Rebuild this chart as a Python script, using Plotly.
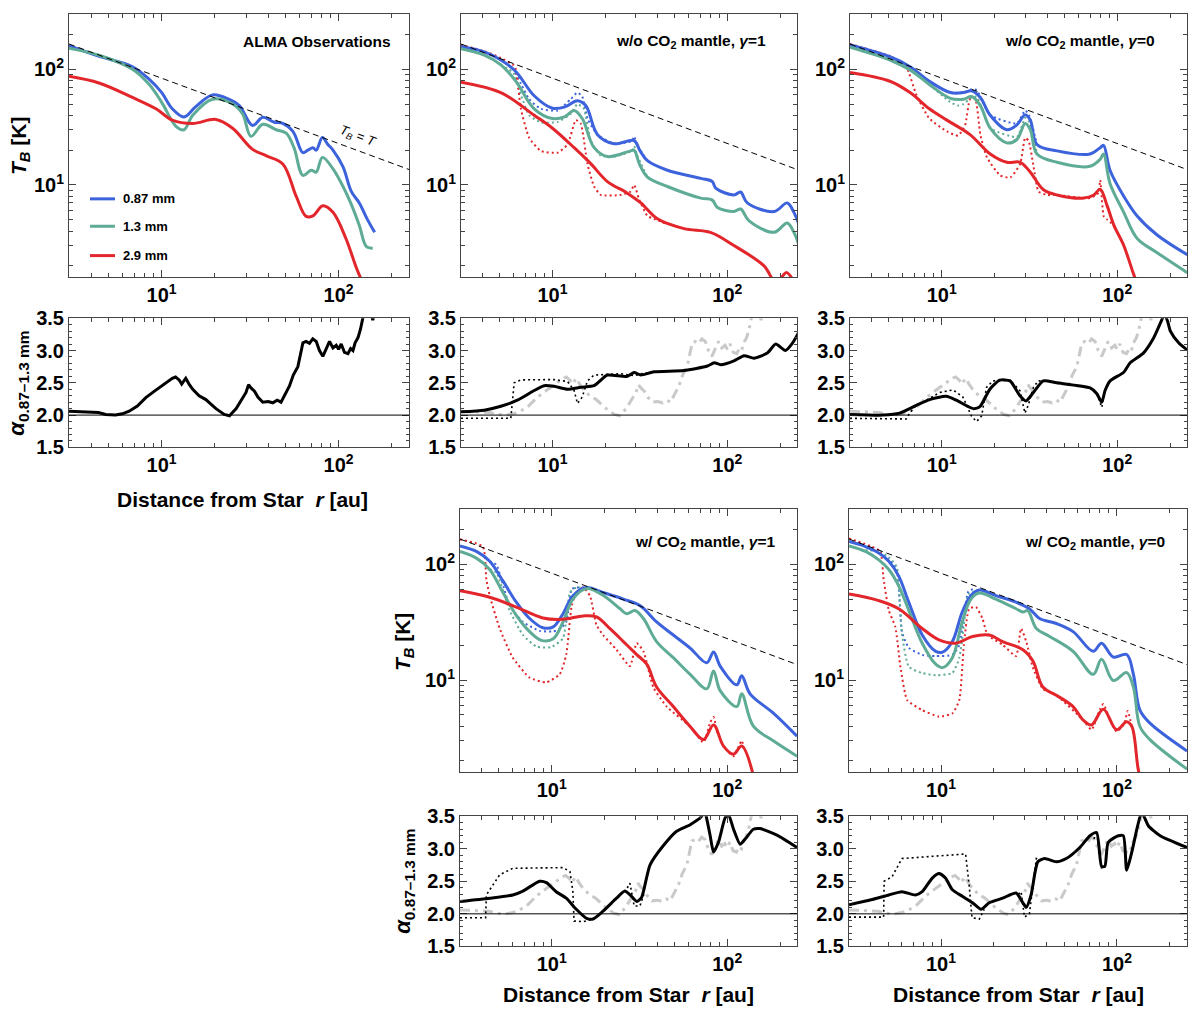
import math
import plotly.graph_objects as go

# ---------------- data ----------------
# TB = T reference line (straight in log-log)
tbt_r = [3, 250]
tbt_T = [165, 13.6]

# ALMA observations
alma_087_r = [3, 4.4, 6.85, 8.5, 10, 11.5, 13.4, 15.5, 19.4, 24, 27.5, 32.7, 37.3, 43, 48.4, 55.2, 62.9, 67, 71.6, 74.8, 81, 87, 93, 106, 118, 131, 145, 160]
alma_087_T = [160, 130, 105, 82, 63, 45.5, 38.7, 47, 60, 55, 48.5, 32.6, 38.5, 35, 34, 29, 19, 20, 21, 20, 25.7, 22.4, 20, 14.3, 8.8, 7.0, 5.1, 3.9]
alma_13_r = [3, 4.43, 6.85, 8.5, 10, 12.1, 13.4, 15, 19.4, 25.2, 28.7, 32, 37.3, 44.4, 50.6, 56, 62.9, 70, 74.8, 81, 93, 106, 118, 131, 143.5, 156]
alma_13_T = [152, 132, 100, 74, 52, 31.9, 30, 40, 55, 50, 41, 26.3, 33.4, 30, 28, 21, 12.1, 13.4, 12.9, 17.3, 13.8, 9.7, 6.8, 4.47, 2.94, 2.84]
alma_29_r = [3, 4.43, 6.85, 9.3, 11.5, 15, 20.3, 25.2, 32.7, 38.9, 48.4, 57.6, 65.6, 71.6, 81.5, 93, 110, 126, 135]
alma_29_T = [86.8, 76, 57, 45.5, 36.3, 34, 36.8, 30.9, 20.3, 17.9, 15.2, 8.0, 5.35, 5.4, 6.6, 5.8, 3.45, 1.93, 1.5]

# w/o CO2 mantle, gamma=1
p2_087_r = [3, 4.07, 5.07, 6.17, 7.86, 10, 11.7, 13.9, 15.5, 18.1, 22.5, 29.3, 31.5, 34.9, 45.4, 70.5, 82, 85.7, 109, 119, 130, 185, 220, 240, 257]
p2_087_T = [157, 141, 120, 95.6, 59, 46, 47, 53.4, 48.5, 27.2, 22.7, 24.2, 20, 16.2, 13.4, 11.4, 10.7, 9.4, 8.2, 8.7, 7.0, 5.9, 7.0, 5.8, 4.5]
p2_13_r = [3, 4.07, 5.07, 6.17, 7.86, 10, 11.7, 13.3, 14.8, 17.3, 20.6, 28, 29.3, 31.5, 34.9, 45.4, 70.5, 82, 87.7, 109, 119, 133, 185, 220, 240, 257]
p2_13_T = [150, 132, 109, 78.8, 45.5, 37.5, 38.7, 44, 37.5, 21, 17.6, 19.7, 19.9, 15, 11.7, 9.7, 7.7, 7.4, 6.4, 5.9, 6.2, 4.9, 3.9, 4.7, 3.9, 3.0]
p2_29_r = [3, 5.07, 7.86, 10, 13.3, 16.6, 20.6, 26.8, 32, 39.8, 56.5, 80, 109, 162, 185, 200, 218, 235, 250]
p2_29_T = [77.3, 62.8, 40, 30.9, 21, 15.2, 10.7, 8.5, 7.0, 5.1, 4.2, 3.9, 3.0, 2.0, 1.5, 1.55, 1.75, 1.55, 1.3]
p2d_087_r = [5.07, 6.0, 6.6, 7.36, 8.58, 10.7, 12.7, 13.9, 14.8, 15.85, 18.1, 22.5, 28.5, 29.3, 30.5, 34.9]
p2d_087_T = [120, 100, 75, 55, 45.5, 44, 55, 62.8, 58, 37.5, 27.2, 22.7, 24, 26.3, 22, 16.2]
p2d_13_r = [5.07, 6.0, 6.6, 7.36, 8.58, 10.7, 12.7, 13.9, 15.1, 16.6, 18.9, 22.5, 28.5, 29.3, 30.5, 34.9]
p2d_13_T = [109, 92.5, 60, 40, 34.7, 35, 41, 50, 45.5, 23.9, 17.9, 17.6, 19.7, 21.7, 18, 11.7]
p2d_29_r = [3, 4.07, 5.07, 6.0, 6.17, 6.6, 7.36, 8.58, 10.7, 12.2, 13.6, 14.5, 15.85, 17.3, 18.9, 24.6, 28, 29.3, 31.3, 34.9, 38, 45]
p2d_29_T = [162, 143, 125, 108, 100, 45.5, 25.5, 19.7, 19, 22.4, 36.3, 34, 15.2, 9.7, 8.2, 8.2, 8.8, 10, 7.5, 5.4, 5.1, 4.6]

# w/o CO2 mantle, gamma=0
p3_r = [3, 5.07, 6.6, 8.5, 11.2, 13.3, 14.8, 16.6, 18.9, 23.5, 26.8, 29.9, 32, 34.9, 45.4, 70, 80, 83.6, 91, 109, 130, 169, 251]
p3_087_T = [162, 128, 105, 78.7, 62.8, 62.8, 65, 57, 40, 30, 33, 40.5, 36.3, 22.4, 19.7, 18.5, 21, 22, 13.4, 8.0, 5.4, 3.7, 2.5]
p3_13_T = [155, 120, 98.6, 73.8, 56, 55, 58, 48.5, 30.9, 23.1, 24.7, 34, 30, 18.5, 15.7, 14.5, 16.7, 18.5, 10.3, 5.8, 3.45, 2.6, 1.75]
p3_29_r = [3, 5.07, 6.6, 8.5, 10.7, 14.5, 18.9, 23.5, 28, 32, 38, 45.4, 64.6, 73.6, 80, 87.7, 95.7, 109, 124, 135]
p3_29_T = [93.7, 78.7, 62.8, 45.5, 36.3, 27.2, 18.5, 15.7, 15.7, 12.9, 9.1, 8.2, 7.7, 8.2, 9.2, 6.6, 4.5, 3.0, 1.7, 1.2]
p3d_087_r = [11.2, 13.3, 14.8, 15.8, 16.6, 18.9, 26.8, 29.9, 31.5, 34.9]
p3d_087_T = [62.8, 63, 67, 66, 58, 40, 34, 44, 40, 22.4]
p3d_13_r = [8.5, 11.2, 12.4, 13.3, 14.8, 15.8, 16.6, 18.9, 26.8, 29.9, 31.5, 34.9]
p3d_13_T = [73.8, 52, 48.5, 50, 57, 58, 50, 30.9, 26, 38, 35, 18.5]
p3d_29_r = [3, 5.07, 6.0, 6.3, 7.2, 8.5, 10.7, 12.4, 13.6, 14.5, 15.5, 16.6, 18.1, 21.5, 24.6, 28, 29.9, 31.3, 33.4, 35.6, 39.8, 45.4, 70, 78, 80, 84, 88, 95.7]
p3d_29_T = [165, 130, 112, 105, 59, 37.5, 29, 26.7, 33, 55, 56, 27.2, 17.3, 12.1, 11.6, 15.2, 25.5, 24, 14.3, 8.8, 8.2, 8.2, 7.7, 8.5, 11, 5.3, 5.0, 4.5]

# w/ CO2 mantle, gamma=1
p4_087_r = [3, 3.72, 4.43, 5.27, 6.28, 7.48, 8.9, 10.2, 11.6, 13.2, 15.8, 19.6, 25.6, 31.8, 39.6, 49.3, 61.5, 76.5, 83.6, 91.2, 113.5, 121, 135, 184, 250]
p4_087_T = [144, 129, 106, 71.8, 47, 34, 28.3, 28.8, 37.4, 53.5, 63, 57, 50, 44, 31.8, 24.5, 18.9, 14.1, 17.5, 13.2, 9.1, 10.9, 7.6, 5.15, 3.27]
p4_13_r = [3, 3.72, 4.43, 5.27, 6.28, 7.48, 8.73, 10.2, 11.6, 13.2, 15.8, 19.6, 24.5, 26.7, 29.8, 33.3, 39.6, 49.3, 61.5, 76.5, 83.6, 91.2, 113.5, 121, 141, 184, 250]
p4_13_T = [129, 113, 90, 57, 36.2, 26.2, 22, 22.7, 31.8, 50, 61.6, 54, 41.3, 37.4, 39.8, 34, 21.5, 15.6, 11.2, 8.4, 12.0, 8.1, 5.9, 7.6, 4.0, 2.97, 2.2]
p4_29_r = [3, 4.43, 6.28, 8.9, 11.6, 15.1, 18, 21.4, 25.6, 30.5, 34.8, 39.6, 49.3, 61.5, 73.3, 83.6, 95.3, 108.6, 121, 141]
p4_29_T = [59, 51.9, 42.7, 34.4, 33.5, 35.8, 35.1, 27.9, 21.5, 16.6, 13.7, 8.7, 5.9, 3.97, 3.06, 4.1, 2.69, 2.29, 2.69, 1.5]
p4d_087_r = [4.43, 4.83, 5.75, 6.85, 8.53, 10.2, 11.1, 12.1, 13.0, 13.8, 15.8]
p4d_087_T = [106, 99, 44, 31.8, 26.6, 26.3, 27.5, 31.8, 61, 63, 63]
p4d_13_r = [4.43, 4.83, 5.75, 6.85, 8.17, 9.9, 11.6, 12.7, 13.8, 15.1]
p4d_13_T = [90, 85, 40, 24.5, 19.5, 19.2, 23, 57, 63, 62]
p4d_29_r = [3, 4.05, 4.24, 4.43, 5.05, 6.0, 7.48, 9.3, 11.1, 12.1, 13.0, 13.8, 15.1, 16.5, 18, 19.6, 23.4, 27.9, 30.5, 33.3, 37.9, 45.2, 61.5, 73.3, 80, 83.6, 88, 95.3, 108.6, 118, 121, 126]
p4d_29_T = [164, 142, 74, 53.6, 27.9, 15.6, 10.5, 9.55, 11.2, 16.6, 44, 57, 63, 53.6, 29.8, 24.5, 18.3, 13.2, 20.8, 17.7, 8.7, 5.9, 3.97, 2.9, 4.3, 4.8, 3.5, 2.69, 2.2, 2.8, 3.0, 2.4]

# w/ CO2 mantle, gamma=0
p5_087_r = [3, 3.72, 4.43, 5.05, 5.75, 6.56, 7.82, 9.33, 10.2, 11.6, 13.2, 14.8, 16.5, 20.5, 26.7, 31.8, 36.3, 45.2, 56.3, 73.3, 81.7, 95.3, 113.5, 124, 135, 154, 250]
p5_087_T = [157, 142, 125, 106, 79, 47, 24.5, 17.7, 17.4, 21.5, 38.7, 53.6, 59.8, 53.6, 47, 41.3, 34, 30.8, 26.2, 17.7, 20.8, 15.8, 16.6, 11.2, 5.5, 4.24, 2.44]
p5_13_r = [3, 3.72, 4.43, 5.05, 5.75, 6.56, 7.82, 9.33, 10.2, 11.6, 13.2, 14.8, 16.5, 20.5, 26.7, 29.2, 31.1, 34.8, 41.4, 56.3, 73.3, 81.7, 95.3, 113.5, 124, 135, 154, 250]
p5_13_T = [144, 129, 109, 90, 65, 40, 20.8, 13.7, 12.8, 15.6, 31.8, 50, 56.4, 50, 41.3, 38.7, 39.8, 27.9, 23.8, 17.7, 11.2, 15.1, 9.9, 11.6, 8.7, 3.97, 3.06, 1.7]
p5_29_r = [3, 4.43, 5.75, 7.82, 9.75, 12.1, 15.1, 18.8, 22.4, 29.2, 33.3, 37.9, 45.2, 56.3, 64.3, 71.7, 83.6, 99.5, 113.5, 121.5, 132, 140]
p5_29_T = [55.3, 48.5, 41.3, 27.9, 22.2, 20.8, 23.8, 24.5, 21.5, 18.3, 14.6, 8.7, 7.4, 5.9, 4.5, 4.1, 5.6, 3.72, 4.37, 3.97, 1.7, 1.2]
p5d_087_r = [4.43, 5.05, 5.6, 6.0, 6.56, 7.82, 9.33, 11.6, 12.7, 13.5, 14.3, 15.5]
p5d_087_T = [125, 110, 90, 26, 19, 16.5, 16.1, 16.5, 20, 35, 58, 62]
p5d_13_r = [3.72, 4.43, 5.05, 5.6, 6.0, 6.56, 7.82, 9.33, 11.6, 12.7, 13.5, 14.3, 15.5]
p5d_13_T = [132, 130, 115, 95, 25, 13, 11.5, 11, 11.5, 15.5, 30, 55, 58]
p5d_29_r = [3, 4.05, 4.52, 4.72, 5.05, 5.5, 5.89, 6.43, 7.82, 9.75, 11.6, 12.7, 13.5, 14.45, 15.8, 17.2, 18.4, 22.4, 26.7, 28.5, 30.5, 33.3, 37.9, 45.2, 64.3, 71.7, 80, 83.6, 90, 99.5, 110, 115, 121.5]
p5d_29_T = [167, 142, 129, 74, 40, 28.8, 12.8, 6.7, 5.5, 4.83, 5.15, 6.7, 20.2, 41.3, 42.7, 34, 24.5, 20.2, 16.1, 27.9, 21.5, 12.8, 8.4, 7.4, 4.5, 3.72, 5.6, 6.2, 4.8, 3.6, 4.2, 5.4, 4.0]

# spectral index alpha (0.87-1.3 mm)
alma_a_r = [3, 3.5, 3.9, 4.4, 4.84, 5.5, 6.0, 6.56, 7.3, 8.15, 9.0, 10, 10.8, 11.5, 12.0, 12.6, 13, 13.7, 14.3, 15, 16.3, 17.8, 19.0, 20.3, 22.6, 24.2, 26.4, 28.0, 30, 31.0, 32, 33.5, 35.0, 37.3, 40.0, 42.5, 45.0, 47.3, 50.0, 52.8, 55.5, 58.9, 62.9, 65.5, 68.5, 71.5, 74.8, 78.0, 81.5, 85.0, 88.9, 93.0, 97, 100.0, 103.5, 108.0, 113, 117.0, 120.6, 124.0, 128.8, 133.0, 137.4, 142, None, 152, 156, 160]
alma_a_A = [2.06, 2.05, 2.04, 2.04, 2.01, 2.0, 2.02, 2.06, 2.14, 2.27, 2.36, 2.45, 2.51, 2.57, 2.59, 2.54, 2.48, 2.57, 2.48, 2.4, 2.3, 2.24, 2.17, 2.1, 2.01, 1.99, 2.1, 2.21, 2.35, 2.47, 2.42, 2.37, 2.28, 2.2, 2.21, 2.19, 2.23, 2.2, 2.33, 2.45, 2.62, 2.75, 3.12, 3.14, 3.11, 3.18, 3.14, 3.0, 2.91, 3.03, 3.14, 3.04, 3.08, 3.02, 3.1, 2.97, 2.95, 3.03, 3.0, 3.12, 3.2, 3.33, 3.5, 3.7, None, 3.6, 3.47, 3.6]
a2_r = [3, 4.07, 5.07, 6.3, 7.86, 8.96, 10.2, 12.2, 14.5, 17.3, 18.9, 20.6, 26.8, 29.3, 32, 38.1, 56.5, 76.9, 84, 91.6, 109, 124.5, 142, 169, 189, 215, 235, 257]
a2_A = [2.05, 2.076, 2.136, 2.23, 2.38, 2.455, 2.445, 2.4, 2.43, 2.455, 2.54, 2.62, 2.6, 2.66, 2.62, 2.67, 2.69, 2.76, 2.81, 2.78, 2.84, 2.92, 2.88, 2.96, 3.1, 3.0, 3.11, 3.29]
a2d_r = [3, 5.78, 6.04, 6.6, 10.2, 12.2, 13.3, 13.9, 14.8, 15.85, 17.3, 24.6, 29.3, 32, 38]
a2d_A = [1.95, 1.95, 2.5, 2.545, 2.55, 2.52, 2.38, 2.18, 2.28, 2.53, 2.62, 2.64, 2.61, 2.64, 2.67]
a3_r = [3, 4.62, 5.75, 7.16, 8.53, 10.6, 12.1, 15.1, 16.5, 18.8, 21.4, 24.5, 27.9, 30.2, 33.3, 37.9, 45.2, 70.1, 76.6, 81.7, 85.3, 91.2, 108.6, 118.6, 141, 161, 178, 186, 194, 201, 224, 250]
a3_A = [2.01, 2.0, 2.03, 2.15, 2.24, 2.29, 2.23, 2.1, 2.13, 2.4, 2.54, 2.53, 2.3, 2.22, 2.35, 2.53, 2.5, 2.42, 2.33, 2.2, 2.38, 2.53, 2.66, 2.81, 2.96, 3.19, 3.45, 3.56, 3.45, 3.3, 3.12, 3.01]
a3d_r = [3, 6.28, 6.56, 7.16, 8.53, 9.75, 11.6, 13.2, 14.8, 15.8, 16.9, 18, 19.6, 24.5, 27.9, 29.8, 31.1, 33.3, 35.5, 38, None, 76.6, 81.7, 84]
a3d_A = [1.95, 1.94, 2.03, 2.15, 2.26, 2.35, 2.39, 2.28, 1.98, 1.9, 1.99, 2.43, 2.53, 2.54, 2.38, 2.03, 2.15, 2.43, 2.53, 2.53, None, 2.33, 2.12, 2.3]
a4_r = [3, 4.43, 6.0, 6.85, 8.53, 9.33, 10.6, 12.1, 13.8, 15.8, 17.2, 19.6, 23.4, 26.1, 28.5, 30.5, 32.5, 36.3, 43.3, 51.5, 61.5, 71.6, 73.5, 75.9, 80, 83.6, 89.2, 97.5, 101.8, 108.7, 118.5, 126.7, 141, 154, 192, 250]
a4_A = [2.19, 2.24, 2.29, 2.35, 2.5, 2.48, 2.34, 2.24, 2.07, 1.93, 1.92, 2.04, 2.24, 2.35, 2.27, 2.19, 2.25, 2.75, 3.05, 3.27, 3.37, 3.5, 3.6, 3.5, 3.2, 2.95, 3.1, 3.48, 3.52, 3.3, 3.07, 3.15, 3.3, 3.31, 3.21, 3.02]
a4d_r = [3, 4.2, 4.24, 5.05, 6.0, 11.6, 12.7, 13.2, 13.4, 15.1, 17.2, None, 26.1, 27.9, 29.5, 31.8, 33.5]
a4d_A = [1.94, 1.94, 2.29, 2.6, 2.7, 2.71, 2.65, 2.34, 1.89, 1.88, 1.92, None, 2.33, 2.47, 2.12, 2.12, 2.3]
a5_r = [3, 4.07, 5.05, 6.0, 7.16, 7.82, 8.92, 9.75, 10.6, 11.6, 13.2, 15.1, 16.9, 18.8, 22.4, 26.7, 29.2, 30.5, 32.5, 35.5, 38.8, 45.2, 51.5, 61.5, 70.2, 76.6, 81.7, 85.3, 89.2, 101.8, 108.7, 113.5, 121.4, 131, 138, 145, 151, 176, 250]
a5_A = [2.14, 2.22, 2.29, 2.34, 2.29, 2.34, 2.55, 2.62, 2.55, 2.37, 2.27, 2.17, 2.07, 2.17, 2.24, 2.32, 2.17, 2.1, 2.29, 2.8, 2.85, 2.8, 2.85, 3.02, 3.2, 3.25, 2.73, 2.73, 3.1, 3.2, 3.2, 2.67, 2.95, 3.35, 3.56, 3.45, 3.35, 3.2, 3.02]
a5d_r = [3, 4.72, 4.75, 5.27, 6.0, 13.8, 14.45, 15.0, 16.5, 17.6, None, 27.5, 28.5, 29.8, 31.8, 34.8, 36, None, 74, 76.6, 81.7, 84]
a5d_A = [1.95, 1.95, 2.5, 2.57, 2.85, 2.92, 2.44, 1.94, 1.92, 2.07, None, 2.3, 2.34, 1.95, 2.0, 2.85, 2.83, None, 3.15, 3.27, 2.7, 2.75]

panel_titles = ["ALMA Observations",
                "w/o CO<sub>2</sub> mantle, <i>γ</i>=1",
                "w/o CO<sub>2</sub> mantle, <i>γ</i>=0",
                "w/ CO<sub>2</sub> mantle, <i>γ</i>=1",
                "w/ CO<sub>2</sub> mantle, <i>γ</i>=0"]
legend_labels = ["0.87 mm", "1.3 mm", "2.9 mm"]
x_ticks = [10, 100]
x_ticktext = ["<b>10<sup>1</sup></b>", "<b>10<sup>2</sup></b>"]
tb_ticks = [10, 100]
tb_ticktext = ["<b>10<sup>1</sup></b>", "<b>10<sup>2</sup></b>"]
a_ticks = [1.5, 2.0, 2.5, 3.0, 3.5]
a_ticktext = ["<b>1.5</b>", "<b>2.0</b>", "<b>2.5</b>", "<b>3.0</b>", "<b>3.5</b>"]

# ---------------- style ----------------
W, H = 1188, 1019
FONT = "Liberation Sans"
BLUE = "#3c62dc"
GREEN = "#5eab96"
RED = "#e2262b"
GRAY = "#c9c9c9"
AX = "#444444"

def fx(p):
    return p / W

def fy(p):
    return 1 - p / H

fig = go.Figure()

panels = [
    ("x", "y", (69, 409), (3, 272), "tb"),
    ("x2", "y2", (461, 797), (3, 272), "tb"),
    ("x3", "y3", (850, 1187), (3, 272), "tb"),
    ("x4", "y4", (69, 409), (314, 446), "a"),
    ("x5", "y5", (461, 797), (314, 446), "a"),
    ("x6", "y6", (850, 1187), (314, 446), "a"),
    ("x7", "y7", (460, 797), (509, 778), "tb"),
    ("x8", "y8", (849, 1187), (509, 778), "tb"),
    ("x9", "y9", (460, 797), (823, 956), "a"),
    ("x10", "y10", (849, 1187), (823, 956), "a"),
]

minor_x = [3, 4, 5, 6, 7, 8, 9, 20, 30, 40, 50, 60, 70, 80, 90, 200]
minor_tb = [2, 3, 4, 5, 6, 7, 8, 9, 20, 30, 40, 50, 60, 70, 80, 90, 200, 300]
tickfont = dict(family=FONT, size=20, color="black")

for i, (xn, yn, xp, yp, kind) in enumerate(panels):
    xk = "xaxis" + xn[1:]
    yk = "yaxis" + yn[1:]
    fig.layout[xk] = dict(
        type="log", range=[math.log10(3), math.log10(250)],
        domain=[fx(xp[0]), fx(xp[1])], anchor=yn,
        tickmode="array", tickvals=x_ticks, ticktext=x_ticktext,
        ticks="inside", ticklen=7, tickwidth=1, tickcolor=AX,
        showline=True, linecolor=AX, linewidth=1, mirror="allticks",
        showgrid=False, zeroline=False, tickfont=tickfont,
        minor=dict(tickmode="array", tickvals=minor_x, ticks="inside",
                   ticklen=4, tickwidth=1, tickcolor=AX, showgrid=False),
    )
    if kind == "tb":
        fig.layout[yk] = dict(
            type="log", range=[math.log10(1.6), math.log10(300)],
            domain=[fy(yp[1]), fy(yp[0])], anchor=xn,
            tickmode="array", tickvals=tb_ticks, ticktext=tb_ticktext,
            ticks="inside", ticklen=7, tickwidth=1, tickcolor=AX,
            showline=True, linecolor=AX, linewidth=1, mirror="allticks",
            showgrid=False, zeroline=False, tickfont=tickfont,
            minor=dict(tickmode="array", tickvals=minor_tb, ticks="inside",
                       ticklen=4, tickwidth=1, tickcolor=AX, showgrid=False),
        )
    else:
        fig.layout[yk] = dict(
            range=[1.5, 3.5],
            domain=[fy(yp[1]), fy(yp[0])], anchor=xn,
            tickmode="array", tickvals=a_ticks, ticktext=a_ticktext,
            ticks="inside", ticklen=7, tickwidth=1, tickcolor=AX,
            showline=True, linecolor=AX, linewidth=1, mirror="allticks",
            showgrid=False, zeroline=False, tickfont=tickfont,
            minor=dict(dtick=0.1, ticks="inside", ticklen=3, tickwidth=1,
                       tickcolor=AX, showgrid=False),
        )


def line(x, y, xa, ya, color, width=3, dash="solid", shape="spline", smooth=1.0):
    ln = dict(color=color, width=width, dash=dash, shape=shape)
    if shape == "spline":
        ln["smoothing"] = smooth
    fig.add_trace(go.Scatter(x=x, y=y, xaxis=xa, yaxis=ya, mode="lines",
                             line=ln, showlegend=False, hoverinfo="skip"))


DOT = "2px,3px"

def tb_panel(xa, ya, solid, dotted):
    for (r, t, c) in dotted:
        line(r, t, xa, ya, c, width=2, dash=DOT, shape="spline", smooth=0.5)
    for (r, t, c) in solid:
        line(r, t, xa, ya, c, width=3, smooth=1.0)
    line(tbt_r, tbt_T, xa, ya, "black", width=1, dash="6px,4px", shape="linear")

tb_panel("x", "y",
         [(alma_087_r, alma_087_T, BLUE), (alma_13_r, alma_13_T, GREEN), (alma_29_r, alma_29_T, RED)], [])
tb_panel("x2", "y2",
         [(p2_087_r, p2_087_T, BLUE), (p2_13_r, p2_13_T, GREEN), (p2_29_r, p2_29_T, RED)],
         [(p2d_087_r, p2d_087_T, BLUE), (p2d_13_r, p2d_13_T, GREEN), (p2d_29_r, p2d_29_T, RED)])
tb_panel("x3", "y3",
         [(p3_r, p3_087_T, BLUE), (p3_r, p3_13_T, GREEN), (p3_29_r, p3_29_T, RED)],
         [(p3d_087_r, p3d_087_T, BLUE), (p3d_13_r, p3d_13_T, GREEN), (p3d_29_r, p3d_29_T, RED)])
tb_panel("x7", "y7",
         [(p4_087_r, p4_087_T, BLUE), (p4_13_r, p4_13_T, GREEN), (p4_29_r, p4_29_T, RED)],
         [(p4d_087_r, p4d_087_T, BLUE), (p4d_13_r, p4d_13_T, GREEN), (p4d_29_r, p4d_29_T, RED)])
tb_panel("x8", "y8",
         [(p5_087_r, p5_087_T, BLUE), (p5_13_r, p5_13_T, GREEN), (p5_29_r, p5_29_T, RED)],
         [(p5d_087_r, p5d_087_T, BLUE), (p5d_13_r, p5d_13_T, GREEN), (p5d_29_r, p5d_29_T, RED)])

alpha_sets = [
    ("x4", "y4", None, None, None, None),
    ("x5", "y5", a2_r, a2_A, a2d_r, a2d_A),
    ("x6", "y6", a3_r, a3_A, a3d_r, a3d_A),
    ("x9", "y9", a4_r, a4_A, a4d_r, a4d_A),
    ("x10", "y10", a5_r, a5_A, a5d_r, a5d_A),
]
shapes = []
for xa, ya, sr, sa, dr, da in alpha_sets:
    shapes.append(dict(type="line", xref=xa + " domain", x0=0, x1=1, yref=ya, y0=2.0, y1=2.0,
                       line=dict(color="black", width=1), layer="above"))
    if sr is None:
        line(alma_a_r, alma_a_A, xa, ya, "black", width=3, shape="linear")
    else:
        line(alma_a_r, alma_a_A, xa, ya, GRAY, width=3, dash="10px,5px,3px,5px", shape="linear")
        line(dr, da, xa, ya, "black", width=1.6, dash=DOT, shape="linear")
        line(sr, sa, xa, ya, "black", width=3, smooth=0.6)

leg_y = [192, 220, 250]
for yy, c in zip(leg_y, [BLUE, GREEN, RED]):
    shapes.append(dict(type="line", xref="paper", yref="paper", x0=fx(90), x1=fx(115),
                       y0=fy(yy), y1=fy(yy), line=dict(color=c, width=3)))

annotations = []
for yy, lab in zip(leg_y, legend_labels):
    annotations.append(dict(xref="paper", yref="paper", x=fx(121), y=fy(yy), text="<b>" + lab + "</b>",
                            showarrow=False, xanchor="left", yanchor="middle",
                            font=dict(family=FONT, size=13, color="black")))

title_pos = [(393, 31), (768, 31), (1157, 31), (778, 543), (1167, 543)]
for (px, py), t in zip(title_pos, panel_titles):
    annotations.append(dict(xref="paper", yref="paper", x=fx(px), y=fy(py), text="<b>" + t + "</b>",
                            showarrow=False, xanchor="right", yanchor="middle",
                            font=dict(family=FONT, size=15.5, color="black")))

annotations.append(dict(xref="paper", yref="paper", x=fx(358), y=fy(128),
                        text="<i>T<sub>B</sub></i> = <i>T</i>", showarrow=False,
                        textangle=21, xanchor="center", yanchor="middle",
                        font=dict(family=FONT, size=13, color="black")))

for px, py in [(20, 138), (404, 645)]:
    annotations.append(dict(xref="paper", yref="paper", x=fx(px), y=fy(py),
                            text="<b><i>T<sub>B</sub></i> [K]</b>", showarrow=False, textangle=-90,
                            xanchor="center", yanchor="middle",
                            font=dict(family=FONT, size=21, color="black")))
for px, py in [(18, 381), (404, 890)]:
    annotations.append(dict(xref="paper", yref="paper", x=fx(px), y=fy(py),
                            text="<b><i>α</i><sub>0.87–1.3 mm</sub></b>", showarrow=False, textangle=-90,
                            xanchor="center", yanchor="middle",
                            font=dict(family=FONT, size=22, color="black")))
for px, py in [(242, 499), (629, 1005), (1018, 1005)]:
    annotations.append(dict(xref="paper", yref="paper", x=fx(px), y=fy(py),
                            text="<b>Distance from Star  <i>r</i> [au]</b>", showarrow=False,
                            xanchor="center", yanchor="middle",
                            font=dict(family=FONT, size=21, color="black")))

fig.update_layout(width=W, height=H, margin=dict(l=0, r=0, t=0, b=0),
                  paper_bgcolor="white", plot_bgcolor="white",
                  shapes=shapes, annotations=annotations, showlegend=False,
                  font=dict(family=FONT))

fig.write_html("out.html")
